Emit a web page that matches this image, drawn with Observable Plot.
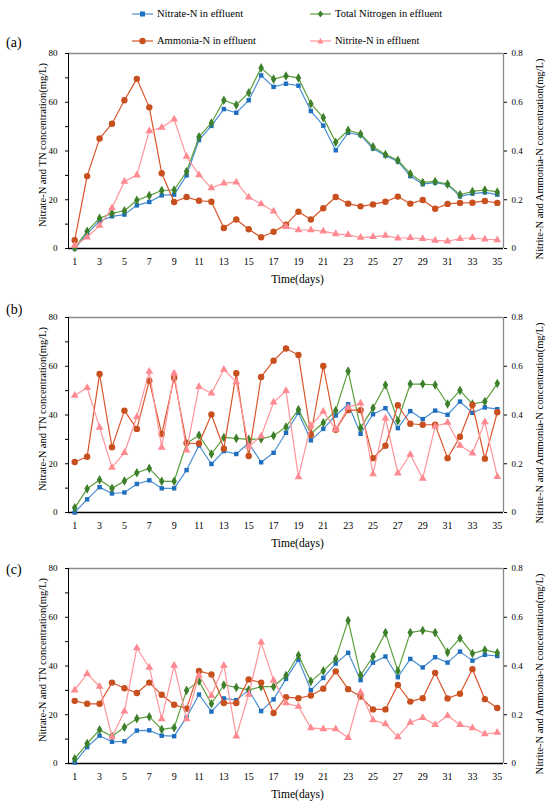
<!DOCTYPE html>
<html><head><meta charset="utf-8">
<script src="https://cdn.jsdelivr.net/npm/d3@7"></script>
<script src="https://cdn.jsdelivr.net/npm/@observablehq/plot@0.6"></script>
<style>
body{margin:0;background:#fff;font-family:"Liberation Serif","Times New Roman",serif;color:#000;}
#wrap{position:relative;width:550px;height:809px;overflow:hidden;background:#fff;}
.panel{position:absolute;left:0;}
.letter{position:absolute;left:6px;font-size:14px;line-height:14px;}
.leg{position:absolute;font-size:10.5px;line-height:12px;display:flex;align-items:center;white-space:nowrap;}
.leg svg{margin-right:3px;}
</style></head><body><div id="wrap"></div>
<script>
// ---- data ----
const days = d3.range(1, 36);
const dayTicks = [1,3,5,7,9,11,13,15,17,19,21,23,25,27,29,31,33,35];
const leftTicks = [0,10,20,30,40,50,60,70,80];
const rightTicks = [0,20,40,60,80];
const seriesNames = ["Nitrate-N in effluent","Total Nitrogen in effluent","Ammonia-N in effluent","Nitrite-N in effluent"];
const seriesColors = {line:["#4a8fd2","#5a9e3c","#d9562b","#ff949a"], mark:["#1f6fc0","#3d7f2a","#c8501e","#ff8a92"]};
const seriesSymbols = ["square","diamond","circle","triangle"];

// panel (a)
const aNitrate = [0,6.1,11.2,13.2,13.9,17.7,19.1,21.8,22.1,30,44.5,50.3,57.2,55.7,60.8,71,66.3,67.6,66.8,56.4,50.4,40.3,47.5,46.5,41,38.1,35.7,29.7,26.4,27,26.2,21.4,22.5,23,22.1];
const aTN = [0.3,7.1,12.4,14.4,15.5,19.8,21.7,23.8,24,31.6,45.8,51.5,60.8,58.9,63.9,74.1,69.5,70.8,70,59.4,53.7,43.6,48.5,47,41.7,38.6,36.2,30.7,27.1,27.5,26.4,22.1,23.4,24,23.2];
const aAmmonia = [0.034,0.297,0.451,0.512,0.608,0.696,0.579,0.309,0.191,0.211,0.196,0.192,0.084,0.119,0.079,0.046,0.069,0.098,0.151,0.119,0.165,0.211,0.184,0.173,0.181,0.192,0.213,0.184,0.199,0.163,0.183,0.187,0.188,0.195,0.187];
const aNitrite = [0.012,0.046,0.094,0.166,0.275,0.301,0.482,0.496,0.530,0.377,0.302,0.248,0.268,0.272,0.210,0.183,0.153,0.089,0.076,0.076,0.071,0.060,0.056,0.045,0.048,0.053,0.042,0.044,0.040,0.033,0.030,0.040,0.044,0.038,0.035];
// panel (b)
const bNitrate = [0,5.4,10.4,7.8,8.2,11.7,13.2,9.9,9.9,17.4,27.5,19.9,25.2,24,28.5,20.6,24.5,32.7,40.9,29.6,34.3,39.8,44.4,32.3,40.3,42.8,34.6,41.6,38.3,41.8,40.1,45.5,40.9,43.1,42.4];
const bTN = [1.9,9.7,13.4,9.9,12.9,16.3,18.1,12.8,12.8,28.3,31.7,24,30.8,30.4,30,30.2,31.5,35.1,42.2,32.3,36.8,41.8,58,34.7,42.9,52.3,37.6,52.7,52.7,52.3,44.5,50.1,44.5,45.5,52.9];
const bAmmonia = [0.207,0.229,0.568,0.268,0.418,0.343,0.541,0.322,0.552,0.285,0.283,0.402,0.262,0.571,0.232,0.556,0.623,0.673,0.646,0.319,0.601,0.339,0.420,0.420,0.223,0.274,0.440,0.364,0.360,0.360,0.223,0.311,0.441,0.221,0.411];
const bNitrite = [0.480,0.512,0.349,0.185,0.245,0.392,0.578,0.267,0.571,0.255,0.516,0.489,0.587,0.535,0.271,0.313,0.452,0.499,0.146,0.357,0.414,0.341,0.431,0.448,0.158,0.387,0.161,0.238,0.139,0.353,0.369,0.275,0.243,0.371,0.147];
// panel (c)
const cNitrate = [0.4,6.7,11.4,8.9,9.1,13.5,13.6,11.4,11.2,18.9,28.3,21.3,26.7,26,30.1,21.5,26.3,34.7,42.6,30.1,35.1,41,45.4,34.2,41.4,43.9,35.4,42.9,39.4,43.6,41.4,45.9,42.2,44.6,44.1];
const cTN = [1.9,8.2,13.8,11.2,14.9,18.4,19.2,14,14.7,30,33.8,24.5,32.2,31.2,30.2,31.5,31.5,36.1,44.4,33.7,38,42.9,58.7,36.2,43.9,53.7,38,53.7,54.6,53.7,45.6,51.4,45.1,46.6,45.4];
const cAmmonia = [0.257,0.245,0.245,0.332,0.309,0.289,0.332,0.282,0.241,0.225,0.380,0.365,0.248,0.248,0.345,0.332,0.207,0.272,0.268,0.279,0.307,0.378,0.305,0.275,0.222,0.222,0.322,0.254,0.268,0.372,0.267,0.286,0.387,0.264,0.228];
const cNitrite = [0.301,0.368,0.316,0.109,0.214,0.474,0.394,0.183,0.402,0.183,0.361,0.278,0.402,0.112,0.283,0.497,0.341,0.248,0.234,0.146,0.142,0.142,0.106,0.292,0.178,0.162,0.109,0.168,0.188,0.159,0.196,0.159,0.146,0.121,0.127];

const leftLabel = "Nitrate-N and TN concentration(mg/L)";
const rightLabel = "Nitrite-N and Ammonia-N concentration(mg/L)";
const xLabel = "Time(days)";
const ratio = 100; // secondary axis (0–0.8) mapped onto primary (0–80)

const wrap = document.getElementById("wrap");

function makePanel(arrays) {
  const marks = [
    Plot.ruleY([80], {stroke:"#8a8a8a", strokeWidth:1.3}),
    Plot.ruleX([35.5], {stroke:"#8a8a8a", strokeWidth:1.3}),
    Plot.ruleX([0.5], {stroke:"#000", strokeWidth:1}),
    Plot.ruleY([0], {stroke:"#000", strokeWidth:1.5}),
    Plot.axisX({ticks:dayTicks, tickSize:0, tickPadding:9, label:null, fontSize:10}),
    Plot.axisY({anchor:"left", ticks:leftTicks, tickSize:3, tickPadding:8, label:null, fontSize:9,
      tickFormat:d => d % 20 === 0 ? String(d) : ""}),
    Plot.axisY({anchor:"right", ticks:rightTicks, tickSize:3, tickPadding:5, label:null, fontSize:9,
      tickFormat:d => d === 0 ? "0" : (d / ratio).toFixed(1)})
  ];
  arrays.forEach((vals, i) => {
    const k = i < 2 ? 1 : ratio;
    const rows = days.map((day, j) => ({day, v: vals[j] * k}));
    marks.push(Plot.line(rows, {x:"day", y:"v", stroke:seriesColors.line[i], strokeWidth:1.2}));
    const r = seriesSymbols[i] === "circle" ? 3.2 : seriesSymbols[i] === "square" ? 2.5 : 2.9;
    marks.push(Plot.dot(rows, {x:"day", y:"v", symbol:seriesSymbols[i], r, fill:seriesColors.mark[i]}));
  });
  marks.push(
    Plot.text([leftLabel], {text:d => d, frameAnchor:"left", textAnchor:"middle", lineAnchor:"middle", dx:-26, dy:-6, rotate:-90, fontSize:10.5}),
    Plot.text([rightLabel], {text:d => d, frameAnchor:"right", textAnchor:"middle", lineAnchor:"middle", dx:36, dy:8, rotate:-90, fontSize:10.5}),
    Plot.text([xLabel], {text:d => d, frameAnchor:"bottom", textAnchor:"middle", lineAnchor:"middle", dx:11.5, dy:31, fontSize:11.5})
  );
  return Plot.plot({
    width:550, height:265, marginTop:25, marginBottom:45, marginLeft:68, marginRight:47,
    style:{fontFamily:"'Liberation Serif','Times New Roman',serif", background:"transparent", color:"#000", overflow:"visible"},
    x:{domain:[0.5, 35.5]},
    y:{domain:[0, 80]},
    marks
  });
}

const panels = [
  {letter:"(a)", top:28, letterTop:36, data:[aNitrate, aTN, aAmmonia, aNitrite]},
  {letter:"(b)", top:292, letterTop:303, data:[bNitrate, bTN, bAmmonia, bNitrite]},
  {letter:"(c)", top:543, letterTop:563, data:[cNitrate, cTN, cAmmonia, cNitrite]}
];
panels.forEach(p => {
  const svg = makePanel(p.data);
  svg.classList.add("panel");
  svg.style.top = p.top + "px";
  wrap.appendChild(svg);
  const L = document.createElement("div");
  L.className = "letter";
  L.style.top = p.letterTop + "px";
  L.textContent = p.letter;
  wrap.appendChild(L);
});

// legend
const legendPos = [[132, 8], [310, 8], [132, 35], [310, 35]];
const symbolPaths = {
  square: '<rect x="8" y="2.5" width="5" height="5"/>',
  diamond: '<path d="M10.5,1.5 L13.2,5 L10.5,8.5 L7.8,5 Z"/>',
  circle: '<circle cx="10.5" cy="5" r="3.2"/>',
  triangle: '<path d="M10.5,1.8 L13.5,7.5 L7.5,7.5 Z"/>'
};
seriesNames.forEach((name, i) => {
  const d = document.createElement("div");
  d.className = "leg";
  d.style.left = legendPos[i][0] + "px";
  d.style.top = legendPos[i][1] + "px";
  d.innerHTML = `<svg width="22" height="10"><line x1="0" x2="21" y1="5" y2="5" stroke="${seriesColors.line[i]}" stroke-width="1.2"/><g fill="${seriesColors.mark[i]}">${symbolPaths[seriesSymbols[i]]}</g></svg><span>${name}</span>`;
  wrap.appendChild(d);
});
</script></body></html>
